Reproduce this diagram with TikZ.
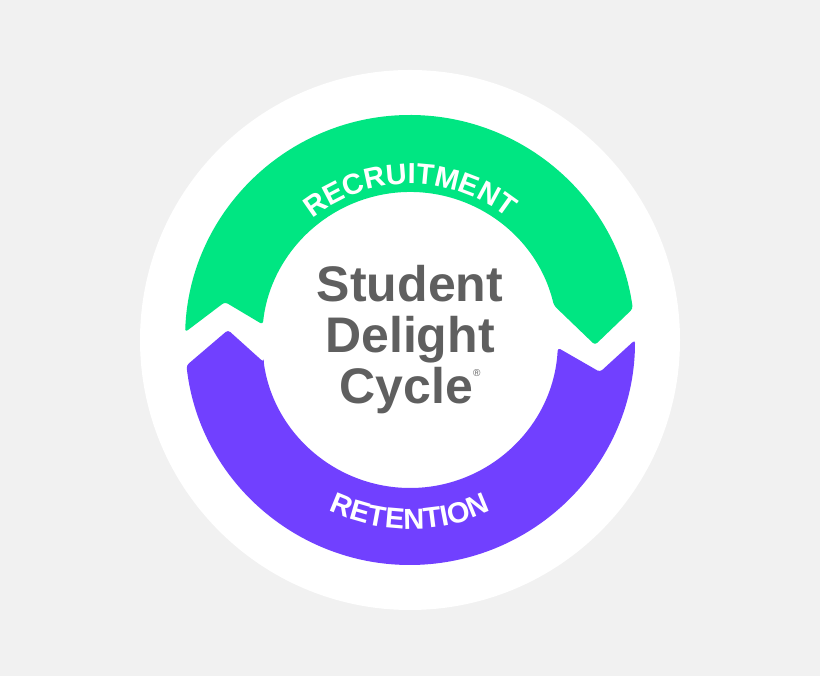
\documentclass[tikz,border=0pt]{standalone}
\usepackage{fontspec}
\setmainfont{Liberation Sans}
\usetikzlibrary{calc,decorations.text}
\definecolor{bggray}{RGB}{241,241,241}
\definecolor{ringgreen}{RGB}{0,230,130}
\definecolor{ringpurple}{RGB}{113,64,255}
\definecolor{textgray}{RGB}{95,95,95}
\begin{document}
\begin{tikzpicture}[x=1pt,y=1pt,
  segment/.style={draw=none, rounded corners=3pt},
  title/.style={font=\fontsize{50}{51}\selectfont\bfseries, text=textgray, align=center}]
\fill[bggray] (0,0) rectangle (820,676);
\useasboundingbox (0,0) rectangle (820,676);
\coordinate (C) at (410,336);
\fill[white] (C) circle[radius=270];
% green segment
\fill[ringgreen, segment] ($(C)+(174:148)$) -- (225,374) -- ($(C)+(178:225)$)
  arc[start angle=178,end angle=8,radius=225] -- (595,331) -- ($(C)+(13.5:148)$)
  arc[start angle=13.5,end angle=174,radius=148] -- cycle;
% purple segment
\fill[ringpurple, segment] ($(C)+(188.6:148)$) -- (228,346) -- ($(C)+(186.5:225)$)
  arc[start angle=186.5,end angle=360,radius=225] -- (600,304) -- ($(C)+(-3:148)$)
  arc[start angle=-3,end angle=-171.4,radius=148] -- cycle;
% labels
\path[decorate, decoration={text along path, text align=center,
  text={|\color{white}\fontsize{29}{29}\selectfont\bfseries|RECRUITMENT}}]
  ($(C)+(150:156)$) arc[start angle=150,end angle=30,radius=156];
\path[decorate, decoration={text along path, text align=center,
  text={|\color{white}\fontsize{29}{29}\selectfont\bfseries|RETENTION}}]
  ($(C)+(215:189)$) arc[start angle=215,end angle=325,radius=189];
\node[title] (t) at (410,336) {Student\\Delight\\Cycle\raisebox{0.55em}{\fontsize{10}{10}\selectfont\normalfont ®}};
\end{tikzpicture}
\end{document}
